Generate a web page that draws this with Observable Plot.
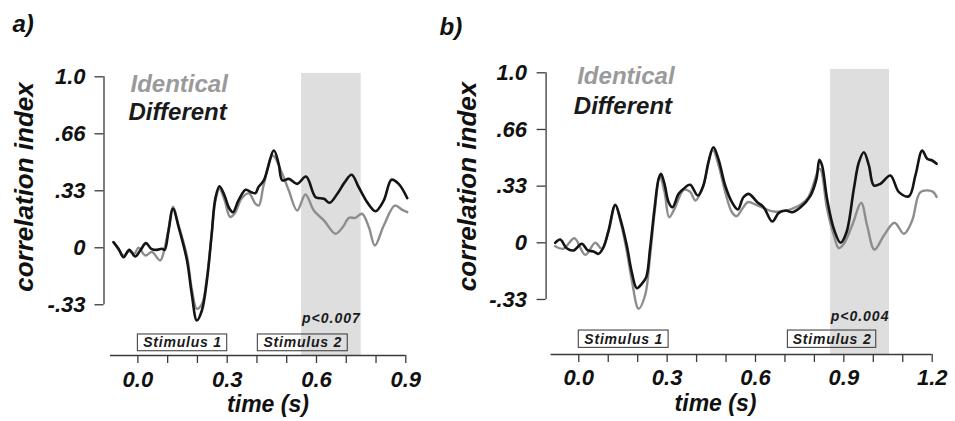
<!DOCTYPE html>
<html>
<head>
<meta charset="utf-8">
<script src="https://cdn.jsdelivr.net/npm/d3@7"></script>
<script src="https://cdn.jsdelivr.net/npm/@observablehq/plot@0.6"></script>
<style>
  html, body { margin: 0; padding: 0; background: #fff; }
  #wrap { position: relative; width: 955px; height: 421px; overflow: hidden; }
  #pa, #pb { position: absolute; top: 0; }
  #pa { left: 0; }
  #pb { left: 430px; }
</style>
</head>
<body>
<div id="wrap"><div id="pa"></div><div id="pb"></div></div>
<script>
// ---------- Panel a data ----------
const aDiffT = [-0.082,-0.065,-0.048,-0.029,-0.009,0.008,0.027,0.045,0.064,0.081,0.09,0.103,0.118,0.137,0.165,0.181,0.198,0.215,0.232,0.248,0.26,0.274,0.291,0.305,0.319,0.338,0.362,0.381,0.395,0.405,0.423,0.457,0.473,0.485,0.507,0.535,0.565,0.597,0.625,0.644,0.67,0.695,0.718,0.742,0.77,0.798,0.826,0.852,0.876,0.905];
const aDiffV = [0.033,-0.006,-0.055,-0.012,-0.051,-0.016,0.027,-0.006,-0.012,-0.006,-0.012,0.10,0.228,0.12,-0.074,-0.27,-0.425,-0.367,-0.19,0.082,0.287,0.36,0.306,0.237,0.208,0.277,0.339,0.325,0.32,0.355,0.394,0.569,0.49,0.394,0.403,0.374,0.417,0.296,0.287,0.263,0.316,0.384,0.427,0.354,0.267,0.214,0.277,0.398,0.374,0.29];
const aIdenT = [-0.082,-0.065,-0.048,-0.03,-0.012,0.002,0.025,0.047,0.075,0.09,0.103,0.118,0.137,0.165,0.181,0.198,0.215,0.232,0.248,0.26,0.274,0.291,0.31,0.325,0.349,0.373,0.395,0.406,0.423,0.453,0.485,0.507,0.535,0.563,0.591,0.625,0.664,0.688,0.709,0.731,0.753,0.776,0.796,0.826,0.863,0.888,0.905];
const aIdenV = [0.033,-0.01,-0.045,-0.02,-0.035,0.0,-0.045,-0.025,-0.074,0.0,0.11,0.24,0.13,-0.05,-0.24,-0.357,-0.33,-0.17,0.08,0.27,0.345,0.28,0.18,0.2,0.29,0.318,0.257,0.247,0.37,0.54,0.433,0.335,0.218,0.312,0.218,0.16,0.082,0.12,0.175,0.175,0.199,0.12,0.013,0.13,0.247,0.222,0.208];

// ---------- Panel b data ----------
const bDiffT = [-0.080,-0.063,-0.041,-0.018,0.010,0.031,0.05,0.067,0.084,0.101,0.124,0.141,0.163,0.18,0.197,0.214,0.229,0.242,0.257,0.271,0.279,0.291,0.305,0.318,0.339,0.356,0.378,0.404,0.423,0.44,0.457,0.474,0.497,0.52,0.540,0.559,0.577,0.606,0.628,0.657,0.679,0.702,0.725,0.753,0.787,0.807,0.817,0.826,0.843,0.866,0.889,0.909,0.934,0.951,0.968,0.985,1.002,1.024,1.058,1.087,1.121,1.143,1.166,1.183,1.2,1.215];
const bDiffV = [0.0,0.019,-0.032,-0.045,-0.006,-0.045,-0.051,-0.065,-0.026,0.072,0.224,0.141,-0.016,-0.173,-0.267,-0.241,-0.202,-0.035,0.2,0.376,0.406,0.347,0.239,0.209,0.288,0.318,0.341,0.278,0.337,0.474,0.562,0.494,0.337,0.239,0.196,0.268,0.288,0.239,0.209,0.125,0.176,0.19,0.18,0.209,0.278,0.376,0.488,0.455,0.259,0.082,0.0,0.062,0.318,0.474,0.533,0.455,0.337,0.347,0.396,0.298,0.274,0.396,0.543,0.494,0.484,0.465];
const bIdenT = [-0.080,-0.052,-0.015,0.022,0.056,0.078,0.1,0.124,0.141,0.163,0.18,0.203,0.225,0.242,0.257,0.275,0.291,0.307,0.325,0.357,0.378,0.396,0.42,0.455,0.474,0.497,0.52,0.536,0.555,0.575,0.606,0.662,0.719,0.776,0.818,0.843,0.866,0.883,0.9,0.928,0.959,0.979,1.004,1.036,1.072,1.104,1.132,1.16,1.2,1.215];
const bIdenV = [-0.02,-0.035,0.027,-0.071,0.0,-0.035,0.06,0.22,0.13,-0.05,-0.22,-0.388,-0.31,-0.08,0.17,0.39,0.3,0.15,0.2,0.312,0.3,0.249,0.32,0.545,0.46,0.3,0.18,0.157,0.2,0.24,0.22,0.184,0.196,0.259,0.435,0.2,0.043,-0.032,-0.006,0.102,0.235,0.102,-0.04,0.043,0.118,0.053,0.131,0.298,0.302,0.27];

// ---------- annotations / ticks ----------
const yTickValues = [-1/3, 0, 1/3, 2/3, 1];
const yTickLabels = ["-.33", "0", ".33", ".66", "1.0"];
const aXTicks = [0,0.1,0.2,0.3,0.4,0.5,0.6,0.7,0.8,0.9];
const aXLabels = [0, 0.3, 0.6, 0.9];
const bXTicks = [0,0.1,0.2,0.3,0.4,0.5,0.6,0.7,0.8,0.9,1.0,1.1,1.2];
const bXLabels = [0, 0.3, 0.6, 0.9, 1.2];
const aStimuli = [{label: "Stimulus 1", start: 0, end: 0.3}, {label: "Stimulus 2", start: 0.403, end: 0.705}];
const bStimuli = [{label: "Stimulus 1", start: 0, end: 0.305}, {label: "Stimulus 2", start: 0.71, end: 1.01}];
const aShade = [{start: 0.55, end: 0.75, p: "p<0.007"}];
const bShade = [{start: 0.855, end: 1.055, p: "p<0.004"}];
const seriesNames = ["Identical", "Different"];

const zip = (T, V) => T.map((t, i) => ({t, v: V[i]}));

const FONT = "'Liberation Sans', Arial, Helvetica, sans-serif";
const GRAY = "#8d8d8d", BLACK = "#141414", AXIS = "#3a3a3a";

function panel(cfg) {
  const {W, ML, MR, MT, MB, xDom, yDom, diff, iden, xTicks, xLabels, stimuli, shade, L} = cfg;
  const at = (px, py) => ({frameAnchor: "top-left", dx: px - ML, dy: py - MT});
  const txt = {fontFamily: FONT, fontWeight: "bold", fontStyle: "italic"};
  const svg = Plot.plot({
    width: W, height: 421,
    marginLeft: ML, marginRight: MR, marginTop: MT, marginBottom: MB,
    x: {domain: xDom, axis: null},
    y: {domain: yDom, axis: null},
    style: {fontFamily: FONT, background: "transparent", overflow: "visible"},
    marks: [
      Plot.rect(shade, {x1: "start", x2: "end", y1: yDom[0], y2: 1.02, fill: "#dedede"}),
      Plot.text(shade, {x: d => (d.start + d.end) / 2, frameAnchor: "bottom", dy: L.pDy, text: "p", lineAnchor: "bottom", textAnchor: "middle", fontSize: 14, fill: "#1a1a1a", ...txt}),
      Plot.rect(stimuli, {x1: "start", x2: "end", y1: L.boxY1, y2: L.boxY2, fill: "none", stroke: "#444", strokeWidth: 1.1}),
      Plot.text(stimuli, {x: d => (d.start + d.end) / 2, y: (L.boxY1 + L.boxY2) / 2, text: "label", lineAnchor: "middle", textAnchor: "middle", fontSize: 14, fill: "#1a1a1a", ...txt}),
      Plot.line(iden, {x: "t", y: "v", stroke: GRAY, strokeWidth: 2.4, curve: "catmull-rom"}),
      Plot.line(diff, {x: "t", y: "v", stroke: BLACK, strokeWidth: 2.6, curve: "catmull-rom"}),
      // x axis
      Plot.ruleY([yDom[0]], {stroke: AXIS, strokeWidth: 1.3}),
      Plot.axisX(xTicks, {anchor: "bottom", tickSize: 8, tickFormat: () => "", stroke: AXIS, strokeWidth: 1.3, label: null}),
      Plot.text(xLabels, {x: d => d, frameAnchor: "bottom", dy: L.xLabDy, text: d => d.toFixed(1), lineAnchor: "top", textAnchor: "middle", fontSize: 22, fill: "#111", ...txt}),
      // y axis
      Plot.ruleX([xDom[0]], {y1: -1/3, y2: 1, dx: L.yAxisDx, stroke: AXIS, strokeWidth: 1.3}),
      Plot.axisY(yTickValues, {anchor: "left", tickSize: 9, dx: L.yAxisDx, tickFormat: () => "", stroke: AXIS, strokeWidth: 1.3, label: null}),
      Plot.text(yTickValues, {y: d => d, frameAnchor: "left", dx: L.yLabDx, text: (d, i) => yTickLabels[i], textAnchor: "end", lineAnchor: "middle", fontSize: 22, fill: "#111", ...txt}),
      // titles
      Plot.text([L.tag], {...at(L.tagX, L.tagY), text: d => d, textAnchor: "start", lineAnchor: "bottom", fontSize: 24, fill: "#111", ...txt}),
      Plot.text([seriesNames[0]], {...at(L.idX, L.idY), text: d => d, textAnchor: "start", lineAnchor: "bottom", fontSize: 24, fill: "#9a9a9a", ...txt}),
      Plot.text([seriesNames[1]], {...at(L.dfX, L.dfY), text: d => d, textAnchor: "start", lineAnchor: "bottom", fontSize: 24, fill: "#1a1a1a", ...txt}),
      Plot.text(["time (s)"], {...at(L.tX, L.tY), text: d => d, textAnchor: "middle", lineAnchor: "bottom", fontSize: 23, fill: "#111", ...txt}),
      Plot.text(["correlation index"], {...at(L.cX, L.cY), text: d => d, rotate: -90, textAnchor: "middle", lineAnchor: "middle", fontSize: 26, fill: "#111", ...txt})
    ]
  });
  d3.select(svg).selectAll("text")
    .filter(function () { return /Stimulus|p</.test(this.textContent); })
    .attr("letter-spacing", function () { return /Stimulus/.test(this.textContent) ? "0.8" : "1"; });
  return svg;
}

document.getElementById("pa").append(panel({
  W: 430, ML: 110, MR: 24.7, MT: 67.75, MB: 66,
  xDom: [-0.092, 0.9], yDom: [-0.63, 1.05],
  diff: zip(aDiffT, aDiffV), iden: zip(aIdenT, aIdenV),
  xTicks: aXTicks, xLabels: aXLabels, stimuli: aStimuli, shade: aShade,
  L: {pDy: -33, boxY1: -0.507, boxY2: -0.605, xLabDy: 16, yAxisDx: -6.5, yLabDx: -25,
      tag: "a)", tagX: 12, tagY: 31, idX: 130, idY: 91.5, dfX: 128, dfY: 119,
      tX: 267.5, tY: 411, cX: 24, cY: 186.5}
}));

document.getElementById("pb").append(panel({
  W: 525, ML: 120.6, MR: 23.3, MT: 63.8, MB: 67,
  xDom: [-0.094, 1.2], yDom: [-0.657, 1.05],
  diff: zip(bDiffT, bDiffV), iden: zip(bIdenT, bIdenV),
  xTicks: bXTicks, xLabels: bXLabels, stimuli: bStimuli, shade: bShade,
  L: {pDy: -33.3, boxY1: -0.516, boxY2: -0.618, xLabDy: 15, yAxisDx: -5, yLabDx: -24,
      tag: "b)", tagX: 9, tagY: 34, idX: 146.7, idY: 83.3, dfX: 143.3, dfY: 113,
      tX: 285, tY: 410, cX: 37, cY: 186}
}));
</script>
</body>
</html>
